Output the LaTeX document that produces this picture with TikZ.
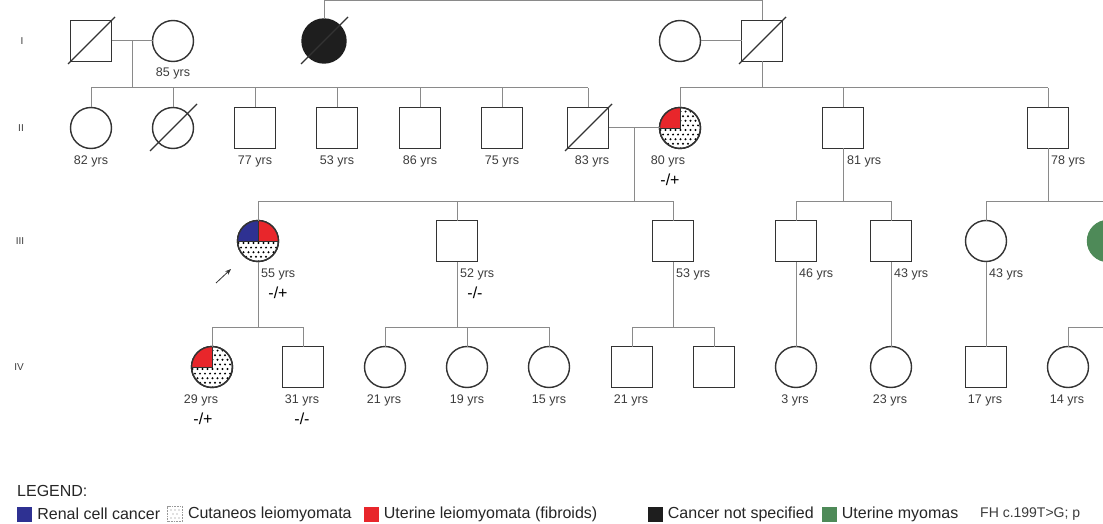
\documentclass[tikz,border=0pt]{standalone}
\usepackage{fontspec}
\setmainfont{Liberation Sans}
\usepackage{tikz}
\usetikzlibrary{arrows.meta, positioning, calc}
\definecolor{symline}{HTML}{333333}
\definecolor{linkgray}{HTML}{8A8A8A}
\definecolor{txtgray}{HTML}{3C3C3C}
\definecolor{rccblue}{HTML}{2E3192}
\definecolor{ulred}{HTML}{E8262B}
\definecolor{umgreen}{HTML}{4E8A58}
\definecolor{cnsblack}{HTML}{1E1E1E}

\tikzset{
  ind/.style={draw=symline, line width=1.4pt, minimum size=41pt, inner sep=0pt, outer sep=0pt},
  male/.style={ind, rectangle},
  female/.style={ind, circle},
  link/.style={draw=linkgray, line width=1pt},
  age/.style={font=\fontsize{12.5}{14}\selectfont, text=txtgray, inner sep=0pt},
  geno/.style={font=\fontsize{16}{18}\selectfont, text=black, inner sep=0pt},
  gen/.style={font=\fontsize{10}{12}\selectfont, text=txtgray},
  lbox/.style={minimum size=15pt, inner sep=0pt},
  ltext/.style={font=\fontsize{16}{18}\selectfont, text=black!85, inner sep=0pt, anchor=west},
  fhtext/.style={font=\fontsize{14}{16}\selectfont, text=txtgray, inner sep=0pt, anchor=west},
}

% deceased slash through a symbol
\newcommand{\deceased}[1]{\draw[symline, line width=1.4pt] ($(#1)+(-23,23)$) -- ($(#1)+(24,-24)$);}
% dotted fill (cutaneous leiomyomata)
\newcommand{\stipple}[1]{%
  \begin{scope}
    \clip (#1) circle [radius=20.5pt];
    \foreach \j in {0,...,9}{%
      \pgfmathsetmacro{\off}{mod(\j,2)*2.5}
      \foreach \i in {0,...,9}
        \fill[black] ($(#1)+(-22+\off+\i*5,-21+\j*4.6)$) circle [radius=1.1pt];
    }
  \end{scope}}
% one coloured quarter of a circle
\newcommand{\quadfill}[3]{%
  \begin{scope}
    \clip (#1) circle [radius=20.5pt];
    \filldraw[fill=#2, draw=symline, line width=0.8pt] (#1.center) rectangle ($(#1)+#3$);
  \end{scope}}

\begin{document}
\begin{tikzpicture}[x=1pt, y=-1pt]
\useasboundingbox (0,0) rectangle (1103,524);
\fill[white] (0,0) rectangle (1103,524);
\clip (0,0) rectangle (1103,524);

% Generation numbers
\node[gen] (gI) at (22,41) {I};
\node[gen] (gII) at (21,128) {II};
\node[gen] (gIII) at (20,241) {III};
\node[gen] (gIV) at (19,367) {IV};

% Sibship rows
\coordinate (top) at (0,1);
\coordinate (rowII) at (0,88);
\coordinate (rowIII) at (0,201);
\coordinate (rowIV) at (0,327);
\coordinate (edgeIV) at (1110,327);

% Generation I
\node[male] (I1) at (91,41) {};
\node[female] (I2) at (173,41) {};
\node[female, fill=cnsblack, draw=cnsblack, minimum size=44pt] (I3) at (324,41) {};
\node[female] (I4) at (680,41) {};
\node[male] (I5) at (762,41) {};

% Generation II
\node[female] (II1) at (91,128) {};
\node[female] (II2) at (173,128) {};
\node[male] (II3) at (255,128) {};
\node[male] (II4) at (337,128) {};
\node[male] (II5) at (420,128) {};
\node[male] (II6) at (502,128) {};
\node[male] (II7) at (588,128) {};
\node[female] (II8) at (680,128) {};
\node[male] (II9) at (843,128) {};
\node[male] (II10) at (1048,128) {};

% Generation III
\node[female] (III1) at (258,241) {};
\node[male] (III2) at (457,241) {};
\node[male] (III3) at (673,241) {};
\node[male] (III4) at (796,241) {};
\node[male] (III5) at (891,241) {};
\node[female] (III6) at (986,241) {};
\node[female, fill=umgreen, draw=umgreen] (III7) at (1108,241) {};

% Generation IV
\node[female] (IV1) at (212,367) {};
\node[male] (IV2) at (303,367) {};
\node[female] (IV3) at (385,367) {};
\node[female] (IV4) at (467,367) {};
\node[female] (IV5) at (549,367) {};
\node[male] (IV6) at (632,367) {};
\node[male] (IV7) at (714,367) {};
\node[female] (IV8) at (796,367) {};
\node[female] (IV9) at (891,367) {};
\node[male] (IV10) at (986,367) {};
\node[female] (IV11) at (1068,367) {};

% Affected: dots, red and blue quarters
\foreach \n in {II8, III1, IV1} \stipple{\n};
\quadfill{II8}{ulred}{(-22,-22)}
\quadfill{IV1}{ulred}{(-22,-22)}
\quadfill{III1}{rccblue}{(-22,-22)}
\quadfill{III1}{ulred}{(22,-22)}
\foreach \n in {II8, III1, IV1}
  \draw[symline, line width=1.4pt] (\n) circle [radius=20.5pt];

% Deceased
\foreach \n in {I1, I3, I5, II2, II7} \deceased{\n};

% Lines of descent, generation I to II
\draw[link] (I1) -- (I2);
\coordinate (mI12) at ($(I1)!0.5!(I2)$);
\draw[link] (mI12) -- (mI12 |- rowII);
\draw[link] (II1.north |- rowII) -- (II7.north |- rowII);
\foreach \n in {II1, II2, II3, II4, II5, II6, II7}
  \draw[link] (\n.north) -- (\n.north |- rowII);

\draw[link] (I3.north) -- (I3.north |- top) -- (I5.north |- top) -- (I5.north);
\draw[link] (I4) -- (I5);
\draw[link] (I5.south) -- (I5.south |- rowII);
\draw[link] (II8.north |- rowII) -- (II10.north |- rowII);
\foreach \n in {II8, II9, II10}
  \draw[link] (\n.north) -- (\n.north |- rowII);

% Generation II to III
\draw[link] (II7) -- (II8);
\coordinate (mII78) at ($(II7.east)!0.5!(II8.west)$);
\draw[link] (mII78) -- (mII78 |- rowIII);
\draw[link] (III1.north |- rowIII) -- (III3.north |- rowIII);
\foreach \n in {III1, III2, III3}
  \draw[link] (\n.north) -- (\n.north |- rowIII);

\draw[link] (II9.south) -- (II9.south |- rowIII);
\draw[link] (III4.north |- rowIII) -- (III5.north |- rowIII);
\foreach \n in {III4, III5}
  \draw[link] (\n.north) -- (\n.north |- rowIII);

\draw[link] (II10.south) -- (II10.south |- rowIII);
\draw[link] (III6.north |- rowIII) -- (III7.north |- rowIII);
\foreach \n in {III6, III7}
  \draw[link] (\n.north) -- (\n.north |- rowIII);

% Generation III to IV
\draw[link] (III1.south) -- (III1.south |- rowIV);
\draw[link] (IV1.north |- rowIV) -- (IV2.north |- rowIV);
\draw[link] (III2.south) -- (III2.south |- rowIV);
\draw[link] (IV3.north |- rowIV) -- (IV5.north |- rowIV);
\draw[link] (III3.south) -- (III3.south |- rowIV);
\draw[link] (IV6.north |- rowIV) -- (IV7.north |- rowIV);
\foreach \n in {IV1, IV2, IV3, IV4, IV5, IV6, IV7}
  \draw[link] (\n.north) -- (\n.north |- rowIV);
\draw[link] (III4) -- (IV8);
\draw[link] (III5) -- (IV9);
\draw[link] (III6) -- (IV10);
\draw[link] (IV11.north) -- (IV11.north |- rowIV) -- (edgeIV);

% Proband
\coordinate (pbTail) at (216,283);
\coordinate (pbHead) at (231,269);
\draw[symline, line width=0.8pt, -{Stealth[length=6pt, width=4.5pt]}] (pbTail) -- (pbHead);

% Ages and genotypes
\node[age] (aI2) at (173,73) {85 yrs};
\node[age] (aII1) at (91,161) {82 yrs};
\node[age] (aII3) at (255,161) {77 yrs};
\node[age] (aII4) at (337,161) {53 yrs};
\node[age] (aII5) at (420,161) {86 yrs};
\node[age] (aII6) at (502,161) {75 yrs};
\node[age] (aII7) at (592,161) {83 yrs};
\node[age] (aII8) at (668,161) {80 yrs};
\node[geno] (gII8) at (670,180) {-/+};
\node[age, anchor=west] (aII9) at (847,161) {81 yrs};
\node[age, anchor=west] (aII10) at (1051,161) {78 yrs};

\node[age, anchor=west] (aIII1) at (261,274) {55 yrs};
\node[geno] (gIII1) at (278,293) {-/+};
\node[age, anchor=west] (aIII2) at (460,274) {52 yrs};
\node[geno] (gIII2) at (475,293) {-/-};
\node[age, anchor=west] (aIII3) at (676,274) {53 yrs};
\node[age, anchor=west] (aIII4) at (799,274) {46 yrs};
\node[age, anchor=west] (aIII5) at (894,274) {43 yrs};
\node[age, anchor=west] (aIII6) at (989,274) {43 yrs};

\node[age] (aIV1) at (201,400) {29 yrs};
\node[geno] (gIV1) at (203,419) {-/+};
\node[age] (aIV2) at (302,400) {31 yrs};
\node[geno] (gIV2) at (302,419) {-/-};
\node[age] (aIV3) at (384,400) {21 yrs};
\node[age] (aIV4) at (467,400) {19 yrs};
\node[age] (aIV5) at (549,400) {15 yrs};
\node[age] (aIV6) at (631,400) {21 yrs};
\node[age] (aIV8) at (795,400) {3 yrs};
\node[age] (aIV9) at (890,400) {23 yrs};
\node[age] (aIV10) at (985,400) {17 yrs};
\node[age] (aIV11) at (1067,400) {14 yrs};

% Legend
\node[ltext] (legend) at (17,491) {LEGEND:};
\node[lbox, fill=rccblue] (kRCC) at (24.5,514) {};
\node[ltext, right=5pt of kRCC] (tRCC) {Renal cell cancer};
\node[lbox, draw=gray!80, densely dotted, line width=0.6pt] (kCL) at (175,514) {};
\foreach \dx/\dy in {-4/-4, 0/-4, 4/-4, -2/0, 2/0, -4/4, 0/4, 4/4}
  \fill[gray] ($(kCL)+(\dx,\dy)$) circle [radius=0.7pt];
\node[ltext, right=5pt of kCL] (tCL) {Cutaneos leiomyomata};
\node[lbox, fill=ulred] (kUL) at (371,514) {};
\node[ltext, right=5pt of kUL] (tUL) {Uterine leiomyomata (fibroids)};
\node[lbox, fill=cnsblack] (kCNS) at (655,514) {};
\node[ltext, right=5pt of kCNS] (tCNS) {Cancer not specified};
\node[lbox, fill=umgreen] (kUM) at (829,514) {};
\node[ltext, right=5pt of kUM] (tUM) {Uterine myomas};
\node[fhtext] (tFH) at (980,514) {FH c.199T>G; p};
\end{tikzpicture}
\end{document}
